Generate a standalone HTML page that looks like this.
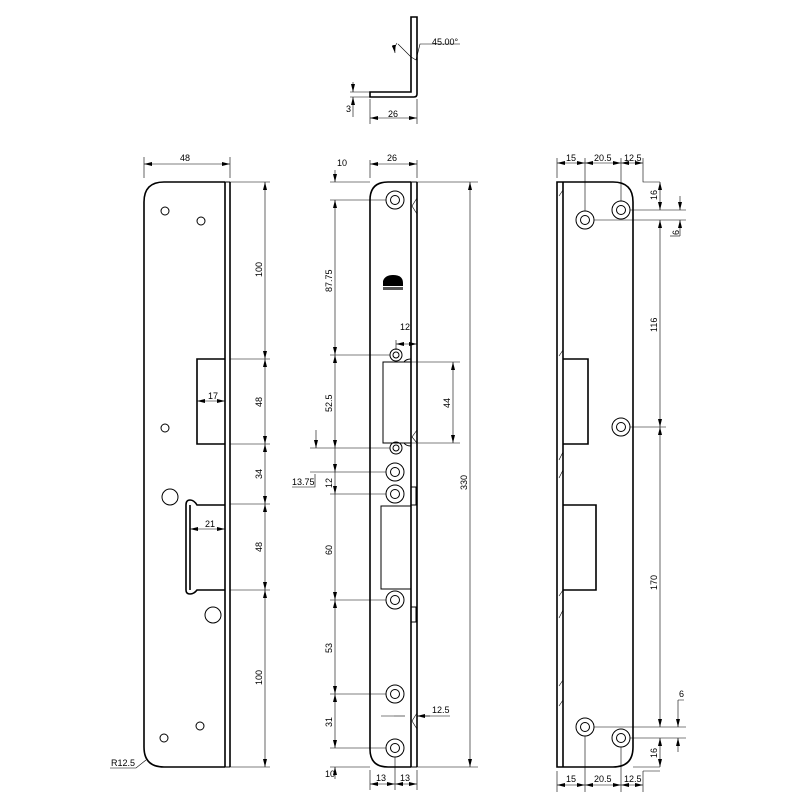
<!DOCTYPE html>
<html><head><meta charset="utf-8"><style>
html,body{margin:0;padding:0;background:#fff;}
svg{display:block;}
text{font-family:"Liberation Sans",sans-serif;font-size:9px;fill:#000;}
.t{stroke:#000;stroke-width:1.6;fill:none;}
.m{stroke:#000;stroke-width:1;fill:none;}
.d{stroke:#000;stroke-width:0.6;fill:none;}
.g{stroke:#888;stroke-width:0.6;fill:none;}
</style></head><body>
<svg width="802" height="802" viewBox="0 0 802 802" xmlns="http://www.w3.org/2000/svg">
<defs>
<marker id="a" viewBox="0 0 8 4" refX="8" refY="2" markerWidth="8" markerHeight="4" orient="auto-start-reverse" markerUnits="userSpaceOnUse"><path d="M0,0 L8,2 L0,4z" fill="#000"/></marker>
</defs>

<!-- TOP PROFILE -->
<path class="t" d="M411,17 H417 V94 Q417,97 414,97 H370 V92 H411 Z"/>
<path class="d" d="M398,44 L411,57 M411,57 L416,60 M416,60 L420,44 H460"/>
<text x="432" y="45">45.00°</text>
<path class="d" d="M397,43 Q394,47 395,53" marker-end="url(#a)"/>
<path class="d" d="M370,99 V124 M417,99 V124"/>
<line class="d" x1="370" y1="118" x2="417" y2="118" marker-start="url(#a)" marker-end="url(#a)"/>
<text x="388" y="117">26</text>
<path class="d" d="M350,92 H370 M350,97 H370"/>
<line class="d" x1="353" y1="82" x2="353" y2="92" marker-end="url(#a)"/>
<line class="d" x1="353" y1="117" x2="353" y2="97" marker-end="url(#a)"/>
<text x="346" y="112">3</text>

<!-- LEFT VIEW -->
<path class="t" d="M225,182 H164 Q144,182 144,202 V747 Q144,767 164,767 H225"/>
<path class="t" d="M225,182 V767 M230,182 V767"/>
<path class="m" d="M225,182 H230 M225,767 H230"/>
<circle class="m" cx="165" cy="211" r="4"/>
<circle class="m" cx="201" cy="221" r="4"/>
<circle class="m" cx="165" cy="428" r="4"/>
<circle class="m" cx="200" cy="726" r="4"/>
<circle class="m" cx="164" cy="738" r="4"/>
<circle class="m" cx="170" cy="497" r="8"/>
<circle class="m" cx="213" cy="615" r="8"/>
<path class="t" d="M225,359 H197 V444 H225"/>
<path class="t" d="M225,505 H197 Q194,500 190,500 Q186,500 186,505 V590 Q186,594 190,594 Q194,594 197,590 H225 M190,505 V590"/>
<path class="d" d="M144,157 V178 M230,157 V178"/>
<line class="d" x1="144" y1="164" x2="230" y2="164" marker-start="url(#a)" marker-end="url(#a)"/>
<text x="180" y="161">48</text>
<path class="d" d="M230,182 H270 M230,359 H270 M230,444 H270 M230,504 H270 M230,590 H270 M230,767 H270"/>
<line class="d" x1="265" y1="182" x2="265" y2="767"/>
<g fill="#000">
<path d="M263,190 L265,182 L267,190z M263,351 L265,359 L267,351z M263,367 L265,359 L267,367z M263,436 L265,444 L267,436z M263,452 L265,444 L267,452z M263,496 L265,504 L267,496z M263,512 L265,504 L267,512z M263,582 L265,590 L267,582z M263,598 L265,590 L267,598z M263,759 L265,767 L267,759z"/>
</g>
<text transform="translate(262,277) rotate(-90)">100</text>
<text transform="translate(262,407) rotate(-90)">48</text>
<text transform="translate(262,479) rotate(-90)">34</text>
<text transform="translate(262,552) rotate(-90)">48</text>
<text transform="translate(262,685) rotate(-90)">100</text>
<line class="d" x1="197" y1="401" x2="225" y2="401" marker-start="url(#a)" marker-end="url(#a)"/>
<text x="208" y="399">17</text>
<line class="d" x1="190" y1="529" x2="225" y2="529" marker-start="url(#a)" marker-end="url(#a)"/>
<text x="205" y="527">21</text>
<path class="d" d="M110,768 H136 L146,760"/>
<text x="111" y="766">R12.5</text>

<!-- MIDDLE VIEW -->
<path class="t" d="M411,182 H388 Q370,182 370,200 V749 Q370,767 388,767 H411"/>
<path class="t" d="M411,182 V767 M417,182 V767"/>
<path class="m" d="M411,182 H417 M411,767 H417"/>
<path class="d" d="M417,198 L412,206 L417,214 M417,430 L412,437 L417,443 M417,713 L412,721 L417,729"/>
<g class="m">
<circle cx="395" cy="200" r="9"/><circle cx="395" cy="200" r="4.5"/>
<circle cx="396" cy="355" r="6"/><circle cx="396" cy="355" r="3"/>
<circle cx="396" cy="448" r="6"/><circle cx="396" cy="448" r="3"/>
<circle cx="395" cy="472" r="9"/><circle cx="395" cy="472" r="4.5"/>
<circle cx="395" cy="494" r="9"/><circle cx="395" cy="494" r="4.5"/>
<circle cx="395" cy="600" r="9"/><circle cx="395" cy="600" r="4.5"/>
<circle cx="395" cy="694" r="9"/><circle cx="395" cy="694" r="4.5"/>
<circle cx="395" cy="748" r="9"/><circle cx="395" cy="748" r="4.5"/>
</g>
<path d="M383,286 V281 Q385,275 393,275 Q403,275 403,283 V286 Z" fill="#000"/>
<path d="M383,287 H403 V290 H383 Z" fill="#555"/>
<path class="m" d="M411,362 H383 V443 H411 M404,362 Q406,359 411,359 M404,443 Q406,446 411,446"/>
<path class="m" d="M411,506 H381 V589 H411"/>
<path class="m" d="M411,487 H416 V505 H411 M411,607 H416 V622 H411"/>
<path class="d" d="M370,160 V178 M417,160 V178 M330,182 H370"/>
<line class="d" x1="370" y1="164" x2="417" y2="164" marker-start="url(#a)" marker-end="url(#a)"/>
<text x="387" y="161">26</text>
<line class="d" x1="335" y1="170" x2="335" y2="182" marker-end="url(#a)"/>
<text x="337" y="166">10</text>
<path class="d" d="M330,200 H386 M330,355 H390 M310,448 H390 M310,472 H386 M330,494 H386 M330,600 H386 M330,694 H386 M330,748 H386"/>
<line class="d" x1="335" y1="200" x2="335" y2="748"/>
<g fill="#000">
<path d="M333,208 L335,200 L337,208z M333,347 L335,355 L337,347z M333,363 L335,355 L337,363z M333,440 L335,448 L337,440z M333,486 L335,494 L337,486z M333,592 L335,600 L337,592z M333,608 L335,600 L337,608z M333,686 L335,694 L337,686z M333,702 L335,694 L337,702z M333,740 L335,748 L337,740z M333,464 L335,472 L337,464z"/>
</g>
<line class="d" x1="316" y1="430" x2="316" y2="448" marker-end="url(#a)"/>
<text transform="translate(332,292) rotate(-90)">87.75</text>
<text transform="translate(332,412) rotate(-90)">52.5</text>
<text transform="translate(332,488) rotate(-90)">12</text>
<text transform="translate(332,555) rotate(-90)">60</text>
<text transform="translate(332,653) rotate(-90)">53</text>
<text transform="translate(332,727) rotate(-90)">31</text>
<path class="d" d="M292,487 H315 V474"/>
<text x="292" y="485">13.75</text>
<path class="d" d="M396,340 V350 M417,340 V350"/>
<line class="d" x1="396" y1="344" x2="417" y2="344" marker-start="url(#a)" marker-end="url(#a)"/>
<text x="400" y="330">12</text>
<path class="d" d="M411,362 H460 M411,443 H460"/>
<line class="d" x1="453" y1="362" x2="453" y2="443" marker-start="url(#a)" marker-end="url(#a)"/>
<text transform="translate(450,408) rotate(-90)">44</text>
<path class="d" d="M417,182 H478 M417,767 H478"/>
<line class="d" x1="470" y1="182" x2="470" y2="767" marker-start="url(#a)" marker-end="url(#a)"/>
<text transform="translate(467,490) rotate(-90)">330</text>
<path class="d" d="M381,716 H394 M417,716 H450"/>
<line class="d" x1="405" y1="716" x2="394" y2="716"/>
<line class="d" x1="430" y1="716" x2="417" y2="716" marker-end="url(#a)"/>
<text x="432" y="713">12.5</text>
<path class="d" d="M395,757 V790 M370,770 V790 M417,770 V790 M330,767 H370"/>
<line class="d" x1="370" y1="784" x2="395" y2="784" marker-start="url(#a)" marker-end="url(#a)"/>
<line class="d" x1="395" y1="784" x2="417" y2="784" marker-start="url(#a)" marker-end="url(#a)"/>
<text x="376" y="781">13</text><text x="400" y="781">13</text>
<line class="d" x1="335" y1="779" x2="335" y2="767" marker-end="url(#a)"/>
<text x="325" y="777">10</text>

<!-- RIGHT VIEW -->
<path class="t" d="M557,182 H613 Q633,182 633,202 V747 Q633,767 613,767 H557 Z"/>
<path class="t" d="M563,182 V767"/>
<path class="d" d="M563,190 L559,196 M563,350 L559,356 M563,452 L559,460 M563,470 L559,478 M563,590 L559,596 M563,610 L559,618 M563,680 L559,686 M563,700 L559,706"/>
<g class="m">
<circle cx="585" cy="220" r="9"/><circle cx="585" cy="220" r="4.5"/>
<circle cx="621" cy="210" r="9"/><circle cx="621" cy="210" r="4.5"/>
<circle cx="621" cy="427" r="9"/><circle cx="621" cy="427" r="4.5"/>
<circle cx="585" cy="727" r="9"/><circle cx="585" cy="727" r="4.5"/>
<circle cx="621" cy="738" r="9"/><circle cx="621" cy="738" r="4.5"/>
</g>
<path class="t" d="M563,359 H588 V444 H563"/>
<path class="t" d="M563,505 H596 V590 H563"/>
<path class="d" d="M557,158 V178 M585,158 V211 M621,158 V201 M643,158 V182 H660"/>
<line class="d" x1="557" y1="163" x2="585" y2="163" marker-start="url(#a)" marker-end="url(#a)"/>
<line class="d" x1="585" y1="163" x2="621" y2="163" marker-start="url(#a)" marker-end="url(#a)"/>
<line class="d" x1="621" y1="163" x2="643" y2="163" marker-start="url(#a)" marker-end="url(#a)"/>
<text x="566" y="161">15</text><text x="594" y="161">20.5</text><text x="624" y="161">12.5</text>
<path class="d" d="M630,210 H686 M594,220 H686 M630,427 H666 M594,727 H686 M630,738 H686"/>
<line class="d" x1="660" y1="182" x2="660" y2="210" marker-start="url(#a)" marker-end="url(#a)"/>
<text transform="translate(657,200) rotate(-90)">16</text>
<line class="d" x1="660" y1="220" x2="660" y2="427" marker-start="url(#a)" marker-end="url(#a)"/>
<text transform="translate(657,332) rotate(-90)">116</text>
<line class="d" x1="660" y1="427" x2="660" y2="727" marker-start="url(#a)" marker-end="url(#a)"/>
<text transform="translate(657,590) rotate(-90)">170</text>
<line class="d" x1="660" y1="738" x2="660" y2="767" marker-start="url(#a)" marker-end="url(#a)"/>
<text transform="translate(657,758) rotate(-90)">16</text>
<path class="d" d="M633,767 H660"/>
<line class="d" x1="680" y1="196" x2="680" y2="210" marker-end="url(#a)"/>
<line class="d" x1="680" y1="236" x2="680" y2="220" marker-end="url(#a)"/>
<path class="d" d="M670,236 H680"/>
<text transform="translate(679,235) rotate(-90)">6</text>
<path class="d" d="M678,700 V714 M678,700 H684"/>
<line class="d" x1="678" y1="714" x2="678" y2="727" marker-end="url(#a)"/>
<line class="d" x1="678" y1="752" x2="678" y2="738" marker-end="url(#a)"/>
<text x="679" y="697">6</text>
<path class="d" d="M557,771 V792 M585,736 V792 M621,747 V792 M643,771 V792 M643,771 H660"/>
<line class="d" x1="557" y1="785" x2="585" y2="785" marker-start="url(#a)" marker-end="url(#a)"/>
<line class="d" x1="585" y1="785" x2="621" y2="785" marker-start="url(#a)" marker-end="url(#a)"/>
<line class="d" x1="621" y1="785" x2="643" y2="785" marker-start="url(#a)" marker-end="url(#a)"/>
<text x="566" y="782">15</text><text x="594" y="782">20.5</text><text x="624" y="782">12.5</text>
</svg>
</body></html>
